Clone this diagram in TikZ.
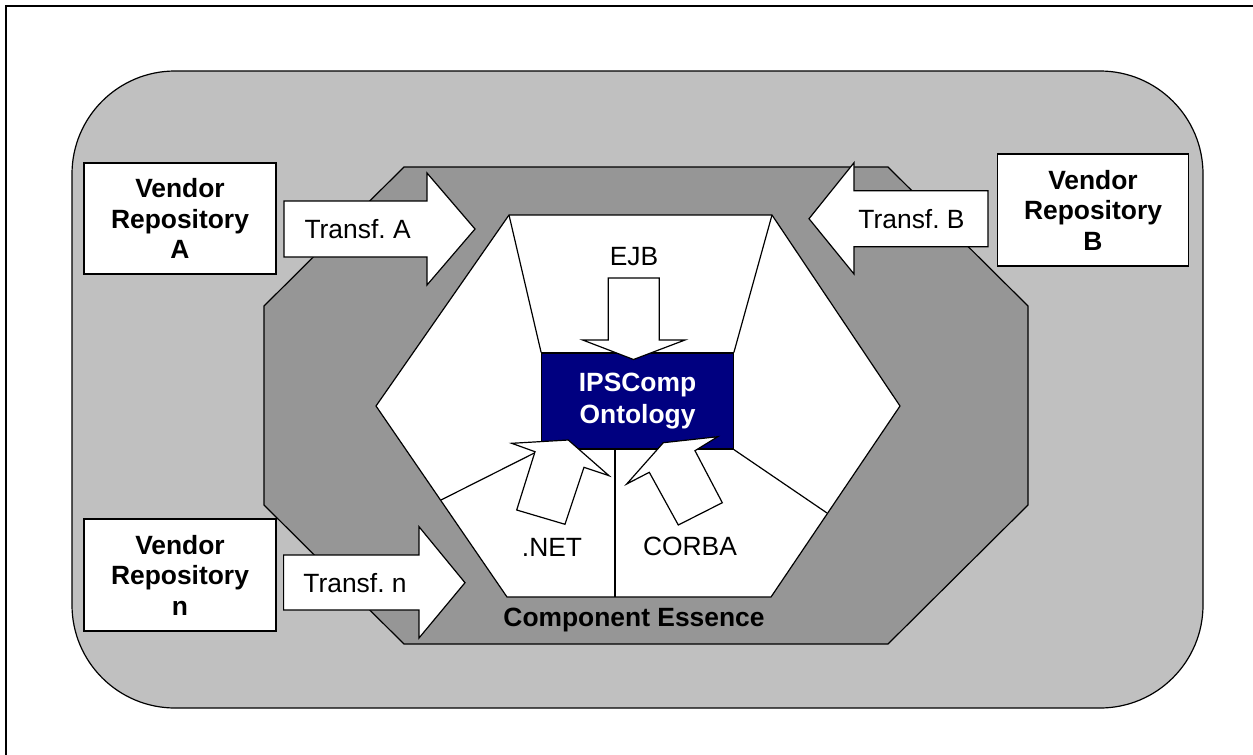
\documentclass[tikz,border=0pt]{standalone}
\usepackage{fontspec}
\setmainfont{Liberation Sans}
\definecolor{lightg}{RGB}{192,192,192}
\definecolor{darkg}{RGB}{150,150,150}
\definecolor{navyb}{RGB}{0,0,128}
\frenchspacing
\begin{document}
\begin{tikzpicture}[x=1pt,y=-1pt,
  outl/.style={draw=black,line width=1.2pt,line join=miter},
  lbl/.style={font=\fontsize{26.4}{31}\selectfont, inner sep=0pt, align=center},
  blbl/.style={inner sep=0pt, align=center, font=\bfseries\fontsize{26.4}{31}\selectfont},
  vbox/.style={draw=black, line width=1.5pt, fill=white, align=center,
    font=\bfseries\fontsize{26.4}{30.5}\selectfont, inner sep=0pt},
  barrow/.style={draw=black, fill=white, line width=1.2pt, line join=miter},
  thinline/.style={draw=black, line width=1.2pt}
]
\useasboundingbox (0,0) rectangle (1253,755);
% frame
\draw[line width=2.5pt] (6,755) -- (6,6) -- (1253,6);
% outer rounded area
\draw[outl, fill=lightg, rounded corners=103pt] (72,71) rectangle (1203,708);
% component essence octagon
\draw[outl, fill=darkg] (404,167) -- (888,167) -- (1028,306) -- (1028,505)
  -- (888,644) -- (404,644) -- (264,505) -- (264,306) -- cycle;
% inner hexagon
\coordinate (H1) at (509,215);
\coordinate (H2) at (772,215);
\coordinate (H3) at (900,406);
\coordinate (H4) at (771,597);
\coordinate (H5) at (507,597);
\coordinate (H6) at (376,406);
\draw[outl, fill=white] (H1) -- (H2) -- (H3) -- (H4) -- (H5) -- (H6) -- cycle;
% ontology box
\node[draw=black, line width=1.2pt, fill=navyb, text=white, minimum width=191.6pt,
  minimum height=96pt, inner sep=0pt, align=center,
  font=\bfseries\fontsize{26.4}{31.5}\selectfont] (onto) at (637.5,401) {IPSComp\\Ontology};
% separating lines
\coordinate (nl) at (441,500);
\coordinate (nr) at (827,513);
\coordinate (vt) at (615,449);
\coordinate (vb) at (615,597);
\draw[thinline] (H1) -- (onto.north west);
\draw[thinline] (H2) -- (onto.north east);
\draw[thinline] (nl) -- (onto.south west);
\draw[thinline] (nr) -- (onto.south east);
\draw[thinline] (vt) -- (vb);
% EJB arrow
\draw[barrow] (608.3,278) -- (659.3,278) -- (659.3,340) -- (685,340) -- (633.5,359.5)
  -- (582.7,340) -- (608.3,340) -- cycle;
\node[lbl] (ejb) at (634,257) {EJB};
% .NET arrow
\draw[barrow] (516.7,510) -- (535,451.7) -- (511.7,443.3) -- (568.3,440) -- (609,475.7)
  -- (584,467.3) -- (565,524.3) -- cycle;
\node[lbl] (net) at (552,547) {.NET};
% CORBA arrow
\draw[barrow] (678.3,525) -- (649.3,472.3) -- (626.7,484) -- (663.3,442.7) -- (717.7,436.7)
  -- (695,450.7) -- (722.3,502.7) -- cycle;
\node[lbl] (corba) at (690,546) {CORBA};
% label of the essence
\node[blbl] (ess) at (634,620) {Component Essence};
% transformation arrows
\draw[barrow] (284,201) -- (427,201) -- (427,173) -- (475,229) -- (427,285) -- (427,257)
  -- (284,257) -- cycle;
\node[lbl] (ta) at (357.6,229) {Transf. A};
\draw[barrow] (988,190.7) -- (854,190.7) -- (854,162.7) -- (809,218.7) -- (854,274)
  -- (854,246.7) -- (988,246.7) -- cycle;
\node[lbl] (tb) at (911.5,219) {Transf. B};
\draw[barrow] (283.6,555) -- (419,555) -- (419,526.7) -- (465,582.7) -- (419,638)
  -- (419,610) -- (283.6,610) -- cycle;
\node[lbl] (tn) at (355,583) {Transf. n};
% vendor repositories
\node[vbox, minimum width=192pt, minimum height=111pt] (va) at (180,218.5) {Vendor\\Repository\\A};
\node[vbox, minimum width=191pt, minimum height=112pt] (vb2) at (1093,210) {Vendor\\Repository\\B};
\node[vbox, minimum width=192pt, minimum height=112pt] (vn) at (180,575) {Vendor\\Repository\\n};
\end{tikzpicture}
\end{document}
